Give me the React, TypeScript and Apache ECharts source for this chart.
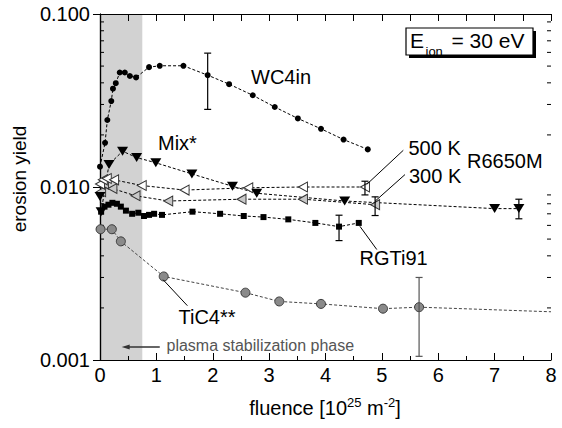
import React, { useEffect, useRef } from "react";
import * as echarts from "echarts";

// ---------- data ----------
const xTickValues = [0, 1, 2, 3, 4, 5, 6, 7, 8];
const yMinorTickValues = [0.002, 0.003, 0.004, 0.005, 0.006, 0.007, 0.008, 0.009, 0.02, 0.03, 0.04, 0.05, 0.06, 0.07, 0.08, 0.09];
const phaseEnd = 0.75;

const wc4in = [
  [0, 0.0131], [0.09, 0.018], [0.13, 0.0244], [0.2, 0.0314], [0.23, 0.037], [0.28, 0.0398],
  [0.35, 0.0459], [0.44, 0.0459], [0.53, 0.0438], [0.64, 0.043], [0.87, 0.0493], [1.06, 0.0502],
  [1.48, 0.0502], [1.91, 0.0443], [2.29, 0.0393], [2.71, 0.0339], [3.1, 0.029], [3.51, 0.0249],
  [3.92, 0.0217], [4.32, 0.0188], [4.75, 0.0165],
];
const mix = [
  [0, 0.0088], [0.02, 0.0072], [0.16, 0.0135], [0.4, 0.0161], [0.65, 0.0148], [0.99, 0.0138],
  [1.63, 0.0119], [2.35, 0.0101], [2.78, 0.0092], [4.34, 0.0083], [7.0, 0.0075], [7.43, 0.0075],
];
const rgti91 = [
  [0.02, 0.0072], [0.08, 0.0077], [0.15, 0.0079], [0.22, 0.0081], [0.3, 0.008], [0.37, 0.0077],
  [0.46, 0.0073], [0.57, 0.007], [0.68, 0.0071], [0.78, 0.0068], [0.87, 0.0069], [0.96, 0.007],
  [1.1, 0.0069], [1.64, 0.0072], [2.13, 0.007], [2.55, 0.0068], [2.9, 0.0067], [3.34, 0.0065],
  [3.82, 0.0062], [4.24, 0.0059], [4.59, 0.0062],
];
const r6650m500 = [
  [0, 0.0104], [0.05, 0.011], [0.12, 0.0112], [0.25, 0.011], [0.74, 0.0102], [1.5, 0.0096],
  [2.63, 0.0099], [3.6, 0.01], [4.7, 0.01],
];
const r6650m300 = [
  [0.02, 0.0094], [0.07, 0.0104], [0.22, 0.0098], [0.63, 0.0089], [1.21, 0.0083], [2.51, 0.0085],
  [3.6, 0.0085], [4.88, 0.0079],
];
const tic4 = [
  [0.01, 0.0057], [0.21, 0.0057], [0.37, 0.00485], [1.13, 0.00304], [2.58, 0.00245], [3.18, 0.00218],
  [3.92, 0.00211], [5.02, 0.00198], [5.66, 0.00202],
];
const tic4Tail = [8, 0.0019];

// error bars: [x, low, high]
const errBlack = [
  [1.91, 0.0281, 0.0594],
  [4.7, 0.009, 0.0108],
  [4.88, 0.00684, 0.00877],
  [7.43, 0.00655, 0.0085],
  [4.24, 0.0049, 0.00687],
];
const errGray = [[5.66, 0.00105, 0.003]];

// leader lines: [x1, y1, x2, y2]
const leaders = [
  [4.73, 0.01034, 5.38, 0.0163],
  [4.88, 0.00828, 5.41, 0.0118],
  [4.61, 0.00593, 4.91, 0.00435],
  [1.12, 0.00291, 1.55, 0.00206],
];
const plasmaArrow = [[1.06, 0.00119, 0.385, 0.00119]];

const FONT = "'Liberation Sans', Arial, Helvetica, sans-serif";

export default function App() {
  const ref = useRef<HTMLDivElement>(null);
  useEffect(() => {
    if (!ref.current) return;
    const chart = echarts.init(ref.current, null, { renderer: "svg" });

    const dashed = { type: [3, 2] as any, width: 1, color: "#000" };

    const lineSeries = (name: string, data: any[], opts: any) => ({
      name,
      type: "line",
      data,
      z: 3,
      lineStyle: { ...dashed, ...(opts.lineStyle || {}) },
      symbol: opts.symbol,
      symbolSize: opts.symbolSize,
      symbolRotate: opts.symbolRotate || 0,
      itemStyle: opts.itemStyle,
      showAllSymbol: true,
      emphasis: { disabled: true },
    });

    const errRender = (color: string) => (params: any, api: any) => {
      const x = api.value(0);
      const lo = api.coord([x, api.value(1)]);
      const hi = api.coord([x, api.value(2)]);
      const c = 3.5;
      const st = { stroke: color, lineWidth: 1.2 };
      return {
        type: "group",
        children: [
          { type: "line", shape: { x1: lo[0], y1: lo[1], x2: hi[0], y2: hi[1] }, style: st },
          { type: "line", shape: { x1: lo[0] - c, y1: lo[1], x2: lo[0] + c, y2: lo[1] }, style: st },
          { type: "line", shape: { x1: hi[0] - c, y1: hi[1], x2: hi[0] + c, y2: hi[1] }, style: st },
        ],
      };
    };

    const text = (t: string, x: number, y: number, size = 20, fill = "#000") => ({
      type: "text",
      x,
      y,
      style: { text: t, fontSize: size, fontFamily: FONT, fill, verticalAlign: "middle", align: "left" },
      z: 10,
    });

    const option: any = {
      animation: false,
      grid: { left: 100, right: 11, top: 14, bottom: 68 },
      xAxis: [
        {
          type: "value", min: 0, max: 8, interval: 1, position: "bottom",
          axisLine: { lineStyle: { color: "#000", width: 1.2 } },
          axisTick: { inside: true, length: 7, lineStyle: { color: "#000" } },
          minorTick: { show: true, splitNumber: 2, length: 4, lineStyle: { color: "#000" } },
          splitLine: { show: false },
          axisLabel: {
            margin: 5, fontSize: 20, color: "#000", fontFamily: FONT,
            formatter: (v: number) => (xTickValues.includes(v) ? String(v) : ""),
          },
        },
        {
          type: "value", min: 0, max: 8, interval: 1, position: "top",
          axisLine: { lineStyle: { color: "#000", width: 1.2 } },
          axisTick: { inside: true, length: 7, lineStyle: { color: "#000" } },
          minorTick: { show: true, splitNumber: 2, length: 7, lineStyle: { color: "#000" } },
          splitLine: { show: false },
          axisLabel: { show: false },
        },
      ],
      yAxis: [
        {
          type: "log", logBase: 10, min: 0.001, max: 0.1, position: "left",
          axisLine: { show: true, lineStyle: { color: "#000", width: 1.2 } },
          axisTick: { show: true, inside: true, length: 7, lineStyle: { color: "#000" } },
          splitLine: { show: false },
          axisLabel: {
            margin: 10, fontSize: 20, color: "#000", fontFamily: FONT,
            formatter: (v: number) => v.toFixed(3),
          },
        },
        {
          type: "log", logBase: 10, min: 0.001, max: 0.1, position: "right",
          axisLine: { show: true, lineStyle: { color: "#000", width: 1.2 } },
          axisTick: { show: true, inside: true, length: 7, lineStyle: { color: "#000" } },
          splitLine: { show: false },
          axisLabel: { show: false },
        },
      ],
      series: [
        {
          type: "custom", name: "phase", z: 0, silent: true,
          data: [[0, phaseEnd]],
          encode: { x: [0, 1] },
          renderItem: (params: any, api: any) => {
            const a = api.coord([api.value(0), 0.1]);
            const b = api.coord([api.value(1), 0.001]);
            return { type: "rect", shape: { x: a[0], y: a[1], width: b[0] - a[0], height: b[1] - a[1] }, style: { fill: "#d2d2d2" } };
          },
        },
        {
          type: "custom", name: "yMinor", z: 1, silent: true,
          data: yMinorTickValues.map((v) => [0, v]),
          encode: { x: 0, y: 1 },
          renderItem: (params: any, api: any) => {
            const v = api.value(1);
            const l = api.coord([0, v]);
            const r = api.coord([8, v]);
            const st = { stroke: "#000", lineWidth: 1 };
            return {
              type: "group",
              children: [
                { type: "line", shape: { x1: l[0], y1: l[1], x2: l[0] + 4, y2: l[1] }, style: st },
                { type: "line", shape: { x1: r[0], y1: r[1], x2: r[0] - 4, y2: r[1] }, style: st },
              ],
            };
          },
        },
        lineSeries("TiC4**", [...tic4, { value: tic4Tail, symbol: "none" }], {
          symbol: "circle", symbolSize: 9,
          lineStyle: { color: "#444" },
          itemStyle: { color: "#8a8a8a", borderColor: "#3a3a3a", borderWidth: 1 },
        }),
        lineSeries("R6650M 300 K", r6650m300, {
          symbol: "triangle", symbolSize: [10, 9], symbolRotate: 90,
          itemStyle: { color: "#c8c8c8", borderColor: "#333", borderWidth: 1 },
        }),
        lineSeries("R6650M 500 K", r6650m500, {
          symbol: "triangle", symbolSize: [10, 9], symbolRotate: 90,
          itemStyle: { color: "#fff", borderColor: "#333", borderWidth: 1 },
        }),
        lineSeries("RGTi91", rgti91, {
          symbol: "rect", symbolSize: 6,
          itemStyle: { color: "#000" },
        }),
        lineSeries("Mix*", mix, {
          symbol: "triangle", symbolSize: [11, 9], symbolRotate: 180,
          itemStyle: { color: "#000" },
        }),
        lineSeries("WC4in", wc4in, {
          symbol: "circle", symbolSize: 6,
          itemStyle: { color: "#000" },
        }),
        {
          type: "custom", name: "errBlack", z: 4, silent: true,
          data: errBlack, encode: { x: 0, y: [1, 2] },
          renderItem: errRender("#000"),
        },
        {
          type: "custom", name: "errGray", z: 4, silent: true,
          data: errGray, encode: { x: 0, y: [1, 2] },
          renderItem: errRender("#555"),
        },
        {
          type: "custom", name: "leaders", z: 4, silent: true,
          data: leaders, encode: { x: [0, 2], y: [1, 3] },
          renderItem: (params: any, api: any) => {
            const a = api.coord([api.value(0), api.value(1)]);
            const b = api.coord([api.value(2), api.value(3)]);
            return { type: "line", shape: { x1: a[0], y1: a[1], x2: b[0], y2: b[1] }, style: { stroke: "#000", lineWidth: 1 } };
          },
        },
        {
          type: "custom", name: "plasmaArrow", z: 4, silent: true,
          data: plasmaArrow, encode: { x: [0, 2], y: [1, 3] },
          renderItem: (params: any, api: any) => {
            const a = api.coord([api.value(0), api.value(1)]);
            const b = api.coord([api.value(2), api.value(3)]);
            return {
              type: "group",
              children: [
                { type: "line", shape: { x1: a[0], y1: a[1], x2: b[0] + 6, y2: b[1] }, style: { stroke: "#333", lineWidth: 1.4 } },
                { type: "polygon", shape: { points: [[b[0], b[1]], [b[0] + 8, b[1] - 2.5], [b[0] + 8, b[1] + 2.5]] }, style: { fill: "#333" } },
              ],
            };
          },
        },
      ],
      graphic: [
        text("WC4in", 251, 76.7),
        text("Mix*", 158, 143),
        text("500 K", 408.5, 147.5),
        text("300 K", 409, 175.8),
        text("R6650M", 467, 160.8),
        text("RGTi91", 359.5, 258),
        text("TiC4**", 178.5, 317),
        text("plasma stabilization phase", 166.5, 345.5, 16, "#555"),
        {
          type: "text", x: 19, y: 179, rotation: Math.PI / 2, z: 10,
          style: { text: "erosion yield", fontSize: 19, fontFamily: FONT, fill: "#000", align: "center", verticalAlign: "middle" },
        },
        {
          type: "text", x: 325, y: 408, z: 10,
          style: {
            text: "{m|fluence [10}{s|25}{m| m}{s|-2}{m|]}",
            align: "center", verticalAlign: "middle",
            rich: {
              m: { fontSize: 20, fontFamily: FONT, fill: "#000", lineHeight: 24, verticalAlign: "middle" },
              s: { fontSize: 13, fontFamily: FONT, fill: "#000", lineHeight: 24, verticalAlign: "top" },
            },
          },
        },
        { type: "rect", shape: { x: 409, y: 31, width: 127, height: 27 }, style: { fill: "#000" }, z: 9 },
        { type: "rect", shape: { x: 406, y: 28, width: 127, height: 27 }, style: { fill: "#fff", stroke: "#000", lineWidth: 1.2 }, z: 10 },
        text("E", 410, 40.8, 21),
        text("ion", 425.5, 51.5, 13),
        text("= 30 eV", 451.5, 40.8, 21),
      ],
    };

    chart.setOption(option);
    return () => chart.dispose();
  }, []);

  return <div ref={ref} style={{ width: 562, height: 428, position: "absolute", left: 0, top: 0 }} />;
}
